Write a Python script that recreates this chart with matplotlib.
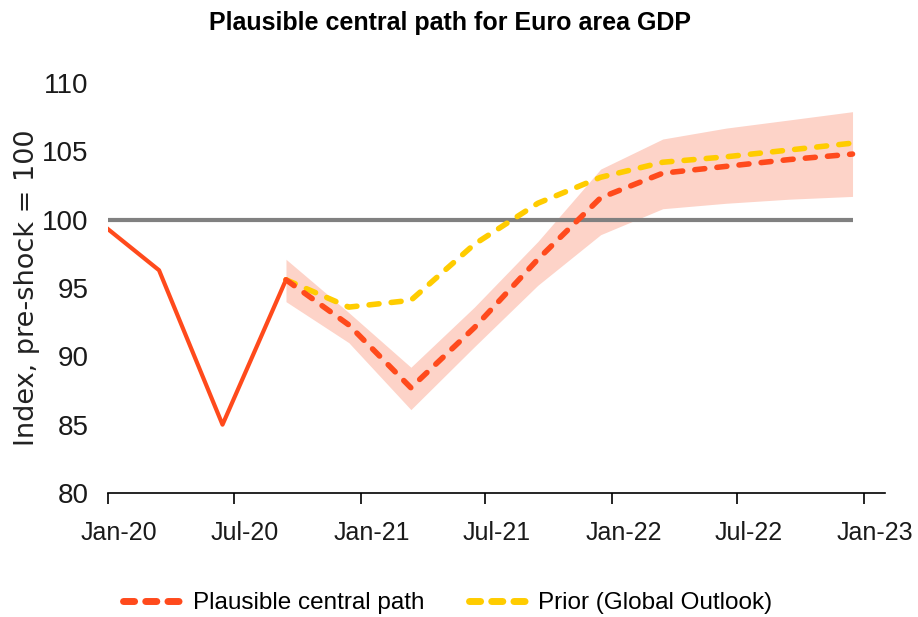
import matplotlib
matplotlib.use("Agg")
import matplotlib.pyplot as plt
import numpy as np
import pandas as pd
from matplotlib.lines import Line2D

# ---- data ----
actual_dates = ["2019-12-15", "2020-03-15", "2020-06-15", "2020-09-15"]
actual_values = [100.0, 96.3, 85.0, 95.6]

path_dates = ["2020-09-15", "2020-12-15", "2021-03-15", "2021-06-15", "2021-09-15",
              "2021-12-15", "2022-03-15", "2022-06-15", "2022-09-15", "2022-12-15"]
central_path = [95.6, 92.3, 87.7, 92.1, 97.1, 101.6, 103.4, 103.9, 104.4, 104.8]
band_upper = [97.1, 93.2, 89.2, 93.6, 98.4, 103.7, 105.9, 106.7, 107.3, 107.9]
band_lower = [94.0, 91.0, 86.1, 90.7, 95.2, 98.9, 100.8, 101.2, 101.5, 101.7]
prior_path = [95.6, 93.6, 94.1, 98.2, 101.2, 103.1, 104.2, 104.6, 105.1, 105.6]

baseline = 100
tick_dates = ["2020-01-01", "2020-07-01", "2021-01-01", "2021-07-01",
              "2022-01-01", "2022-07-01", "2023-01-01"]
tick_labels = ["Jan-20", "Jul-20", "Jan-21", "Jul-21", "Jan-22", "Jul-22", "Jan-23"]
y_ticks = [80, 85, 90, 95, 100, 105, 110]

title = "Plausible central path for Euro area GDP"
ylabel = "Index, pre-shock = 100"
legend_labels = ["Plausible central path", "Prior (Global Outlook)"]

FONT = "Liberation Sans"

RED = "#FF4A1C"
YEL = "#FFCC00"
BAND = "#FDD3C8"
GREY = "#808080"
TXT = "#1a1a1a"

ad = pd.to_datetime(actual_dates)
pdates = pd.to_datetime(path_dates)
tdates = pd.to_datetime(tick_dates)

fig = plt.figure(figsize=(9.18, 6.17), dpi=100)
ax = fig.add_axes([0.1176, 0.201, 0.8464, 0.6645])

ax.fill_between(pdates, band_lower, band_upper, color=BAND, lw=0, zorder=1)
ax.plot([pd.Timestamp("2020-01-01"), pdates[-1]], [baseline, baseline],
        color=GREY, lw=3, zorder=2, solid_capstyle="butt")
ax.plot(ad, actual_values, color=RED, lw=3, zorder=3)
ax.plot(pdates, prior_path, color=YEL, lw=4.0, dashes=[1.8, 2.2],
        dash_capstyle="round", zorder=4)
ax.plot(pdates, central_path, color=RED, lw=4.0, dashes=[1.8, 2.2],
        dash_capstyle="round", zorder=5)

ax.set_xlim(pd.Timestamp("2020-01-01"), pd.Timestamp("2023-01-31"))
ax.set_ylim(80, 110)
ax.set_yticks(y_ticks)
ax.set_xticks(tdates)
ax.set_xticklabels([])
# tick labels sit slightly right of their ticks, as in the reference
for d, lab in zip(tdates, tick_labels):
    ax.annotate(lab, xy=(d, 0), xycoords=("data", "axes fraction"),
                xytext=(8, -20), textcoords="offset points",
                ha="center", va="top", fontsize=18, fontfamily=FONT,
                color=TXT, annotation_clip=False)
for lab in ax.get_yticklabels():
    lab.set_fontfamily(FONT)
    lab.set_fontsize(20)
    lab.set_color(TXT)

for s in ["top", "right", "left"]:
    ax.spines[s].set_visible(False)
ax.spines["bottom"].set_linewidth(1.2)
ax.tick_params(axis="y", length=0, pad=14)
ax.tick_params(axis="x", length=8, width=1.2, direction="out")

ax.set_ylabel(ylabel, fontsize=19.5, fontfamily="DejaVu Sans", color="#222222")
ax.yaxis.set_label_coords(-0.087, 0.5)

fig.text(0.49, 0.962, title, ha="center", va="center", fontsize=18,
         fontweight="bold", fontfamily=FONT)

handles = [Line2D([], [], color=RED, lw=5, dashes=[1.6, 1.6], dash_capstyle="round"),
           Line2D([], [], color=YEL, lw=5, dashes=[1.6, 1.6], dash_capstyle="round")]
fig.legend(handles, legend_labels, loc="center", bbox_to_anchor=(0.488, 0.022),
           ncol=2, frameon=False, prop={"family": FONT, "size": 17.5},
           handlelength=2.45, columnspacing=1.85, handletextpad=0.4)

fig.savefig("out.png", dpi=100, facecolor="white")
